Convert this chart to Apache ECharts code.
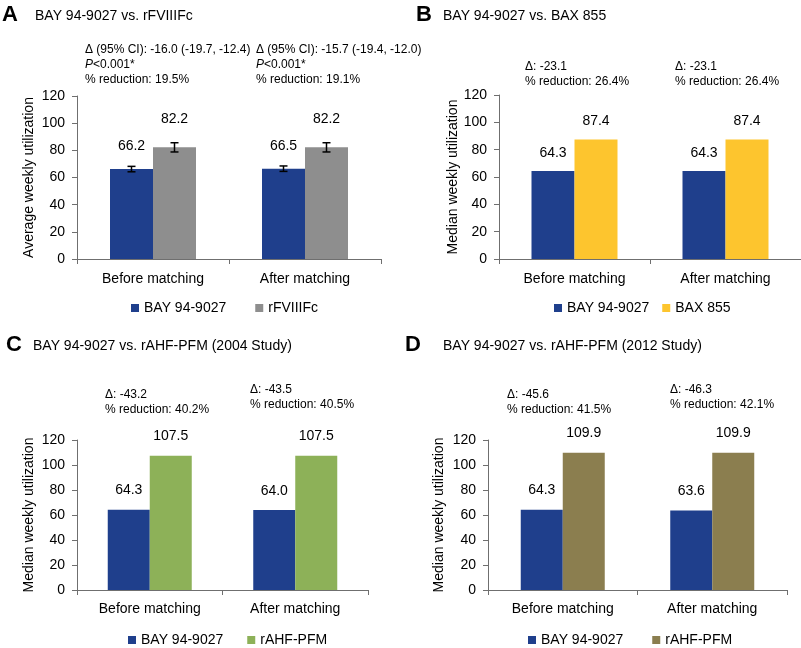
<!DOCTYPE html>
<html>
<head>
<meta charset="utf-8">
<script src="https://cdn.jsdelivr.net/npm/echarts@6/dist/echarts.min.js"></script>
<style>
  html, body { margin: 0; padding: 0; background: #fff; }
  #chart { width: 801px; height: 648px; }
</style>
</head>
<body>
<div id="chart"></div>
<script>
// 数据
var categories = ['Before matching', 'After matching'];
var yMin = 0, yMax = 120, yStep = 20;

// A: BAY 94-9027 vs. rFVIIIFc (mean with error bars)
var bayA = [66.2, 66.5];
var rfviiifc = [82.2, 82.2];
var bayAErr = [[64.2, 68.2], [64.5, 68.5]];
var rfviiifcErr = [[78.8, 85.6], [78.8, 85.6]];

// B: BAY 94-9027 vs. BAX 855
var bayB = [64.3, 64.3];
var bax855 = [87.4, 87.4];

// C: vs. rAHF-PFM (2004 Study)
var bayC = [64.3, 64.0];
var rahf2004 = [107.5, 107.5];

// D: vs. rAHF-PFM (2012 Study)
var bayD = [64.3, 63.6];
var rahf2012 = [109.9, 109.9];

var FONT = '"Liberation Sans", Arial, sans-serif';
var BLUE = '#1f3f8c', GRAY = '#8e8e8e', YELLOW = '#fdc52e', GREEN = '#8db158', OLIVE = '#8b7e4f';

var chart = echarts.init(document.getElementById('chart'));

function xAxisFor(i, margin) {
  return {
    type: 'category', gridIndex: i, data: categories,
    axisLine: {lineStyle: {color: '#6f6f6f', width: 1}},
    axisTick: {show: true, length: 5, lineStyle: {color: '#6f6f6f'}},
    axisLabel: {color: '#000', fontSize: 14, fontFamily: FONT, margin: margin}
  };
}
function yAxisFor(i, name, gap) {
  return {
    type: 'value', gridIndex: i, min: yMin, max: yMax, interval: yStep,
    name: name, nameLocation: 'middle', nameGap: gap,
    nameTextStyle: {color: '#000', fontSize: 14, fontFamily: FONT},
    axisLine: {show: true, lineStyle: {color: '#6f6f6f', width: 1}},
    axisTick: {show: true, length: 5, lineStyle: {color: '#6f6f6f'}},
    axisLabel: {color: '#000', fontSize: 14, fontFamily: FONT, margin: 12},
    splitLine: {show: false}
  };
}
function barSeries(name, data, idx, color, width, dist) {
  return {
    name: name, type: 'bar', xAxisIndex: idx, yAxisIndex: idx, data: data,
    barWidth: width, barGap: '0%',
    itemStyle: {color: color},
    label: {
      show: true, position: 'top', distance: dist, color: '#000', fontSize: 14, fontFamily: FONT,
      formatter: function (p) { return p.value.toFixed(1); }
    }
  };
}
function errSeries(err, idx, offset) {
  return {
    type: 'custom', xAxisIndex: idx, yAxisIndex: idx, z: 5, silent: true,
    encode: {x: 0, y: [1, 2]},
    data: err.map(function (e, i) { return [i, e[0], e[1]]; }),
    renderItem: function (params, api) {
      var lo = api.coord([api.value(0), api.value(1)]);
      var hi = api.coord([api.value(0), api.value(2)]);
      var x = lo[0] + offset, c = 4;
      var st = {stroke: '#000', lineWidth: 1.5};
      return {type: 'group', children: [
        {type: 'line', shape: {x1: x, y1: lo[1], x2: x, y2: hi[1]}, style: st},
        {type: 'line', shape: {x1: x - c, y1: lo[1], x2: x + c, y2: lo[1]}, style: st},
        {type: 'line', shape: {x1: x - c, y1: hi[1], x2: x + c, y2: hi[1]}, style: st}
      ]};
    }
  };
}
function legendFor(left, top, gap, names, colors) {
  return {
    left: left, top: top, padding: 0, itemGap: gap, icon: 'rect', itemWidth: 8, itemHeight: 8,
    textStyle: {color: '#000', fontSize: 14, fontFamily: FONT},
    data: names.map(function (n, k) { return {name: n, itemStyle: {color: colors[k]}}; }),
    selectedMode: false
  };
}
function heading(letter, lx, tx, top, text) {
  return [
    {text: letter, left: lx, top: top, padding: 0,
     textStyle: {fontSize: 22, fontWeight: 'bold', color: '#000', fontFamily: FONT, lineHeight: 22}},
    {text: text, left: tx, top: top + 4, padding: 0,
     textStyle: {fontSize: 14, fontWeight: 'normal', color: '#000', fontFamily: FONT, lineHeight: 16}}
  ];
}
function note(x, y, lines) {
  return {
    type: 'text', left: x, top: y, silent: true,
    style: {
      text: lines.join('\n'), fill: '#000', font: '12px ' + FONT, lineHeight: 15,
      rich: {i: {fontStyle: 'italic', fontSize: 12, fontFamily: FONT, lineHeight: 15}}
    }
  };
}

var option = {
  animation: false,
  textStyle: {fontFamily: FONT},
  title: [].concat(
    heading('A', 2, 35, 4, 'BAY 94-9027 vs. rFVIIIFc'),
    heading('B', 416, 443, 4, 'BAY 94-9027 vs. BAX 855'),
    heading('C', 6, 33, 334, 'BAY 94-9027 vs. rAHF-PFM (2004 Study)'),
    heading('D', 405, 443, 334, 'BAY 94-9027 vs. rAHF-PFM (2012 Study)')
  ),
  grid: [
    {left: 77, top: 96, width: 304, height: 163},
    {left: 499, top: 95, width: 302, height: 164},
    {left: 77, top: 440, width: 291, height: 150},
    {left: 488, top: 440, width: 299, height: 150}
  ],
  xAxis: [xAxisFor(0, 13), xAxisFor(1, 13), xAxisFor(2, 12), xAxisFor(3, 12)],
  yAxis: [
    yAxisFor(0, 'Average weekly utilization', 41),
    yAxisFor(1, 'Median weekly utilization', 38),
    yAxisFor(2, 'Median weekly utilization', 41),
    yAxisFor(3, 'Median weekly utilization', 42)
  ],
  legend: [
    legendFor(131, 301, 29, ['BAY 94-9027', 'rFVIIIFc'], [BLUE, GRAY]),
    legendFor(554, 301, 13, ['BAY 94-9027', 'BAX 855'], [BLUE, YELLOW]),
    legendFor(128, 633, 24, ['BAY 94-9027', 'rAHF-PFM'], [BLUE, GREEN]),
    legendFor(528, 633, 29, ['BAY 94-9027', 'rAHF-PFM'], [BLUE, OLIVE])
  ],
  graphic: [
    note(85, 42, ['\u0394 (95% CI): -16.0 (-19.7, -12.4)', '{i|P}<0.001*', '% reduction: 19.5%']),
    note(256, 42, ['\u0394 (95% CI): -15.7 (-19.4, -12.0)', '{i|P}<0.001*', '% reduction: 19.1%']),
    note(525, 59, ['\u0394: -23.1', '% reduction: 26.4%']),
    note(675, 59, ['\u0394: -23.1', '% reduction: 26.4%']),
    note(105, 387, ['\u0394: -43.2', '% reduction: 40.2%']),
    note(250, 382, ['\u0394: -43.5', '% reduction: 40.5%']),
    note(507, 387, ['\u0394: -45.6', '% reduction: 41.5%']),
    note(670, 382, ['\u0394: -46.3', '% reduction: 42.1%'])
  ],
  series: [
    barSeries('BAY 94-9027', bayA, 0, BLUE, 43, 16),
    barSeries('rFVIIIFc', rfviiifc, 0, GRAY, 43, 21),
    errSeries(bayAErr, 0, -21.5),
    errSeries(rfviiifcErr, 0, 21.5),
    barSeries('BAY 94-9027', bayB, 1, BLUE, 43, 11),
    barSeries('BAX 855', bax855, 1, YELLOW, 43, 11),
    barSeries('BAY 94-9027', bayC, 2, BLUE, 42, 12),
    barSeries('rAHF-PFM', rahf2004, 2, GREEN, 42, 12),
    barSeries('BAY 94-9027', bayD, 3, BLUE, 42, 12),
    barSeries('rAHF-PFM', rahf2012, 3, OLIVE, 42, 12)
  ]
};
chart.setOption(option);
</script>
</body>
</html>
